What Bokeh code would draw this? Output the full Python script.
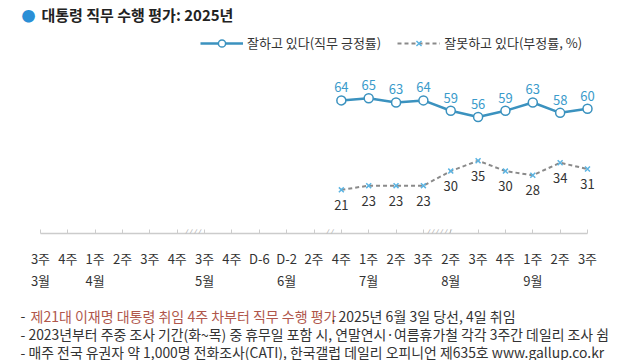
from bokeh.plotting import figure
from bokeh.layouts import column
from bokeh.models import Range1d, LinearAxis, FixedTicker, Legend, LegendItem, Label, ColumnDataSource
from bokeh.embed import file_html
from bokeh.resources import INLINE
from bokeh.core.properties import value

# ---- data ----
week_labels = ["3주", "4주", "1주", "2주", "3주", "4주", "3주", "4주", "D-6", "D-2", "2주",
               "4주", "1주", "2주", "3주", "2주", "3주", "4주", "1주", "2주", "3주"]
month_pos = [0, 2, 6, 9, 12, 15, 18]
month_names = ["3월", "4월", "5월", "6월", "7월", "8월", "9월"]
survey_idx = [11, 12, 13, 14, 15, 16, 17, 18, 19, 20]
approve = [64, 65, 63, 64, 59, 56, 59, 63, 58, 60]
disapprove = [21, 23, 23, 23, 30, 35, 30, 28, 34, 31]
break_pos = [5.5, 10.5, 14.5]
break_marks = ["////", "//", "//////"]

FONT = "Noto Sans CJK KR"
BLUE = "#3b92bf"
BLUE_TXT = "#3a9bcb"
XBLUE = "#5cb4e2"
GRAY_LINE = "#8a8a8a"
DARK = "#333333"

W = 640
H1 = 300
H2 = 60
FRAME_H = 233
KX = 27.35
X0 = 40
KY = 2.08
xs = -X0 / KX
xe = xs + W / KX

p = figure(width=W, height=H1, output_backend="svg", toolbar_location=None,
           x_range=Range1d(xs, xe), y_range=Range1d(0, FRAME_H / KY),
           min_border_left=0, min_border_right=0, min_border_top=0,
           min_border_bottom=H1 - FRAME_H,
           x_axis_location=None, y_axis_location=None)
p.outline_line_color = None
p.grid.visible = False

ax = LinearAxis(ticker=FixedTicker(ticks=list(range(len(week_labels)))),
                major_label_overrides={i: w for i, w in enumerate(week_labels)},
                bounds=(0, len(week_labels) - 1))
ax.axis_line_color = "#cccccc"
ax.axis_line_width = 1.5
ax.major_tick_in = 4
ax.major_tick_out = 0
ax.major_tick_line_color = "#cccccc"
ax.minor_tick_line_color = None
ax.major_label_text_font = FONT
ax.major_label_text_font_size = "13px"
ax.major_label_text_color = DARK
ax.major_label_standoff = 15
p.add_layout(ax, "below")

ax2 = LinearAxis(ticker=FixedTicker(ticks=month_pos),
                 major_label_overrides={m: n for m, n in zip(month_pos, month_names)})
ax2.axis_line_color = None
ax2.major_tick_line_color = None
ax2.minor_tick_line_color = None
ax2.major_tick_in = 0
ax2.major_tick_out = 0
ax2.major_label_text_font = FONT
ax2.major_label_text_font_size = "13px"
ax2.major_label_text_color = DARK
ax2.major_label_standoff = 0
p.add_layout(ax2, "below")

src_a = ColumnDataSource(dict(x=survey_idx, y=approve, t=[str(v) for v in approve]))
src_d = ColumnDataSource(dict(x=survey_idx, y=disapprove, t=[str(v) for v in disapprove]))

r1 = p.line("x", "y", source=src_a, line_color=BLUE, line_width=2.5)
r2 = p.scatter("x", "y", source=src_a, marker="circle", size=9, fill_color="white",
               line_color=BLUE, line_width=1.5)
p.text("x", "y", text="t", source=src_a, y_offset=-13, text_align="center",
       text_baseline="middle", text_font=value(FONT), text_font_size="13px",
       text_color=BLUE_TXT)

r3 = p.line("x", "y", source=src_d, line_color=GRAY_LINE, line_width=2, line_dash="4 3")
r4 = p.scatter("x", "y", source=src_d, marker="x", size=7, line_color=XBLUE, line_width=1.5)
p.text("x", "y", text="t", source=src_d, y_offset=15, text_align="center",
       text_baseline="middle", text_font=value(FONT), text_font_size="13px",
       text_color=DARK)

for bx, bt in zip(break_pos, break_marks):
    p.add_layout(Label(x=bx, y=1, x_units="data", y_units="screen", text=bt,
                       text_align="center", text_baseline="middle",
                       text_font=FONT, text_font_size="11px", text_color="#b5b5b5",
                       text_font_style="italic"))

legend = Legend(items=[LegendItem(label="잘하고 있다(직무 긍정률)", renderers=[r1, r2]),
                       LegendItem(label="잘못하고 있다(부정률, %)", renderers=[r3, r4])],
                orientation="horizontal", location=(200, 181), glyph_width=43,
                glyph_height=18, label_standoff=4, spacing=16, padding=0, margin=0,
                border_line_color=None, background_fill_alpha=0,
                label_text_font=FONT, label_text_font_size="13px",
                label_text_color=DARK)
p.add_layout(legend)


def label_on(fig, frame_h, px, py, text, size, color, style="normal", align="left"):
    fig.add_layout(Label(x=px, y=frame_h - py, x_units="screen", y_units="screen",
                         text=text, text_align=align, text_baseline="middle",
                         text_font=FONT, text_font_size=size, text_color=color,
                         text_font_style=style))


label_on(p, FRAME_H, 28, 14, "●", "14px", "#2b8fd6", align="center")
label_on(p, FRAME_H, 41, 14, "대통령 직무 수행 평가: 2025년", "15px", "#222222", style="bold")

# footnote strip
q = figure(width=W, height=H2, output_backend="svg", toolbar_location=None,
           x_range=Range1d(0, W), y_range=Range1d(0, H2),
           min_border_left=0, min_border_right=0, min_border_top=0, min_border_bottom=0,
           x_axis_location=None, y_axis_location=None)
q.outline_line_color = None
q.grid.visible = False

Y0 = H1
label_on(q, H2, 20, 315 - Y0, "-", "14px", DARK)
label_on(q, H2, 30, 315 - Y0, "제21대 이재명 대통령 취임 4주 차부터 직무 수행 평가", "14px", "#b0574c")
label_on(q, H2, 331, 315 - Y0, ". 2025년 6월 3일 당선, 4일 취임", "14px", DARK)
label_on(q, H2, 20, 333 - Y0,
         "- 2023년부터 주중 조사 기간(화~목) 중 휴무일 포함 시, 연말연시·여름휴가철 각각 3주간 데일리 조사 쉼",
         "13.9px", DARK)
label_on(q, H2, 20, 351 - Y0,
         "- 매주 전국 유권자 약 1,000명 전화조사(CATI), 한국갤럽 데일리 오피니언 제635호 www.gallup.co.kr",
         "13.9px", DARK)

layout = column(p, q, spacing=0)
open("out.html", "w").write(file_html(layout, INLINE))
